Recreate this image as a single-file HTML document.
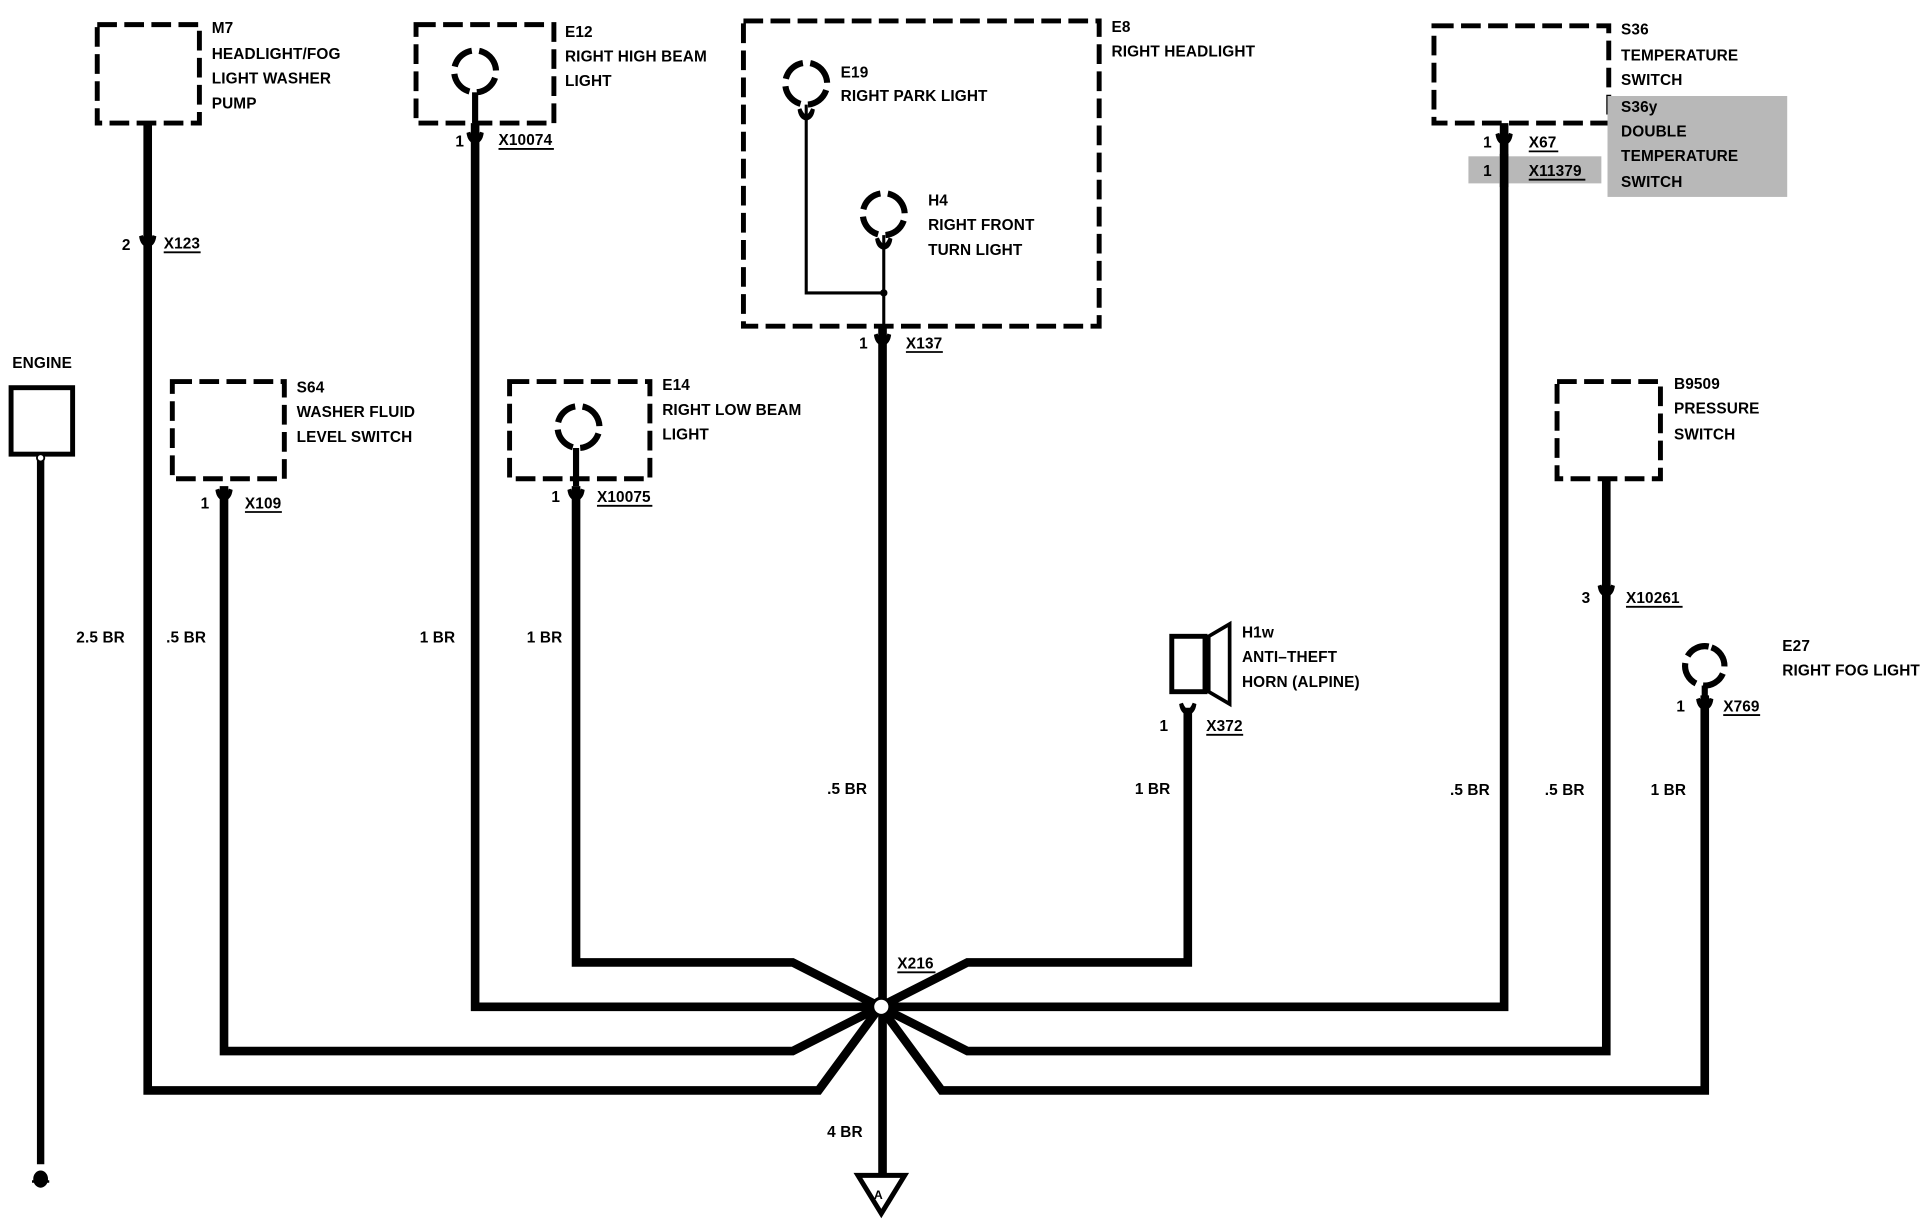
<!DOCTYPE html>
<html><head><meta charset="utf-8"><style>
html,body{margin:0;padding:0;background:#fff;}
svg{display:block}
text{font-family:"Liberation Sans",sans-serif;font-weight:bold;font-size:12.5px;fill:#000;letter-spacing:0.1px}
.w{stroke:#000;stroke-width:7;fill:none;stroke-linejoin:miter}
.t{stroke:#000;stroke-width:2.5;fill:none}
.d{stroke:#000;stroke-width:4;fill:none;stroke-dasharray:16 6}
.l{stroke:#000;stroke-width:5;fill:none;stroke-dasharray:20 6}
.u{stroke:#000;stroke-width:1.5}
</style></head><body>
<svg width="1930" height="1232" viewBox="0 0 1568 1001" preserveAspectRatio="none">
<defs>
<path id="cn" d="M-7,-6 Q-6,2 0,3 Q6,2 7,-6 L4,-7 Q2,-2 0,-2 Q-2,-2 -4,-7 Z" fill="#000"/>
</defs>
<polyline class="w" points="120,100 120,886 665,886 715,818"/>
<polyline class="w" points="182,395 182,854 644,854 715,818"/>
<polyline class="w" points="386,100 386,818 715,818"/>
<polyline class="w" points="468,395 468,782 644,782 715,818"/>
<polyline class="w" points="965,575 965,782 786,782 715,818"/>
<polyline class="w" points="1222,100 1222,818 715,818"/>
<polyline class="w" points="1305,390 1305,854 786,854 715,818"/>
<polyline class="w" points="1385,565 1385,886 765,886 715,818"/>
<line class="w" x1="717" y1="265" x2="717" y2="955"/>
<circle cx="716" cy="818" r="7" fill="#fff" stroke="#000" stroke-width="2.5"/>
<polygon points="697,955 735,955 716,986" fill="#fff" stroke="#000" stroke-width="4"/>
<text x="710" y="974" style="font-size:10px">A</text>
<text x="729" y="787">X216</text><line class="u" x1="729" y1="790" x2="760" y2="790"/>
<text x="672" y="924">4 BR</text>

<text x="10" y="299">ENGINE</text>
<rect x="9" y="315" width="50" height="54" fill="#fff" stroke="#000" stroke-width="4"/>
<line x1="33" y1="373" x2="33" y2="946" stroke="#000" stroke-width="6"/>
<circle cx="33" cy="372" r="3" fill="#fff" stroke="#000" stroke-width="1.5"/>
<ellipse cx="33" cy="958" rx="6" ry="7" fill="#000"/>
<line x1="26" y1="960" x2="40" y2="960" stroke="#000" stroke-width="2"/>

<rect class="d" x="79" y="20" width="83" height="80"/>
<text x="172" y="27">M7</text><text x="172" y="48">HEADLIGHT/FOG</text><text x="172" y="68">LIGHT WASHER</text><text x="172" y="88">PUMP</text>
<use href="#cn" x="120" y="198"/>
<text x="99" y="203">2</text><text x="133" y="202">X123</text><line class="u" x1="133" y1="205" x2="163" y2="205"/>
<text x="62" y="522">2.5 BR</text>

<rect class="d" x="338" y="20" width="112" height="80"/>
<circle cx="386" cy="58" r="17" class="l" transform="rotate(-70 386 58)"/>
<line class="w" x1="386" y1="75" x2="386" y2="100" style="stroke-width:5"/>
<text x="459" y="30">E12</text><text x="459" y="50">RIGHT HIGH BEAM</text><text x="459" y="70">LIGHT</text>
<use href="#cn" x="386" y="114"/>
<text x="370" y="119">1</text><text x="405" y="118">X10074</text><line class="u" x1="405" y1="121" x2="450" y2="121"/>
<text x="341" y="522">1 BR</text>

<rect class="d" x="604" y="17" width="289" height="248"/>
<text x="903" y="26">E8</text><text x="903" y="46">RIGHT HEADLIGHT</text>
<circle cx="655" cy="68" r="17" class="l" transform="rotate(-70 655 68)"/>
<polyline class="t" points="655,85 655,238 718,238"/>
<use href="#cn" x="655" y="95"/>
<circle cx="718" cy="174" r="17" class="l" transform="rotate(-70 718 174)"/>
<line class="t" x1="718" y1="191" x2="718" y2="265"/>
<use href="#cn" x="718" y="200"/>
<circle cx="718" cy="238" r="3" fill="#000"/>
<text x="683" y="63">E19</text><text x="683" y="82">RIGHT PARK LIGHT</text>
<text x="754" y="167">H4</text><text x="754" y="187">RIGHT FRONT</text><text x="754" y="207">TURN LIGHT</text>
<use href="#cn" x="717" y="278"/>
<text x="698" y="283">1</text><text x="736" y="283">X137</text><line class="u" x1="736" y1="286" x2="766" y2="286"/>
<text x="672" y="645">.5 BR</text>

<rect class="d" x="140" y="310" width="91" height="79"/>
<text x="241" y="319">S64</text><text x="241" y="339">WASHER FLUID</text><text x="241" y="359">LEVEL SWITCH</text>
<use href="#cn" x="182" y="404"/>
<text x="163" y="413">1</text><text x="199" y="413">X109</text><line class="u" x1="199" y1="416" x2="229" y2="416"/>
<text x="135" y="522">.5 BR</text>

<rect class="d" x="414" y="310" width="114" height="79"/>
<circle cx="470" cy="347" r="17" class="l" transform="rotate(-70 470 347)"/>
<line class="w" x1="468" y1="364" x2="468" y2="395" style="stroke-width:5"/>
<text x="538" y="317">E14</text><text x="538" y="337">RIGHT LOW BEAM</text><text x="538" y="357">LIGHT</text>
<use href="#cn" x="468" y="404"/>
<text x="448" y="408">1</text><text x="485" y="408">X10075</text><line class="u" x1="485" y1="411" x2="530" y2="411"/>
<text x="428" y="522">1 BR</text>

<rect x="952" y="517" width="27" height="45" fill="#fff" stroke="#000" stroke-width="4"/>
<polygon points="982,517 999,507 999,572 982,562" fill="#fff" stroke="#000" stroke-width="3"/>
<text x="1009" y="518">H1w</text><text x="1009" y="538">ANTI–THEFT</text><text x="1009" y="558">HORN (ALPINE)</text>
<use href="#cn" x="965" y="578"/>
<text x="942" y="594">1</text><text x="980" y="594">X372</text><line class="u" x1="980" y1="597" x2="1010" y2="597"/>
<text x="922" y="645">1 BR</text>

<rect class="d" x="1165" y="21" width="142" height="79"/>
<text x="1317" y="28">S36</text><text x="1317" y="49">TEMPERATURE</text><text x="1317" y="69">SWITCH</text>
<rect x="1306" y="78" width="146" height="82" fill="#b8b8b8"/>
<text x="1317" y="91">S36y</text><text x="1317" y="111">DOUBLE</text><text x="1317" y="131">TEMPERATURE</text><text x="1317" y="152">SWITCH</text>
<use href="#cn" x="1222" y="115"/>
<text x="1205" y="120">1</text><text x="1242" y="120">X67</text><line class="u" x1="1242" y1="123" x2="1266" y2="123"/>
<rect x="1193" y="127" width="108" height="22" fill="#b8b8b8"/>
<line class="w" x1="1222" y1="125" x2="1222" y2="152"/>
<text x="1205" y="143">1</text><text x="1242" y="143">X11379</text><line class="u" x1="1242" y1="146" x2="1288" y2="146"/>
<text x="1178" y="646">.5 BR</text>

<rect class="d" x="1265" y="310" width="84" height="79"/>
<text x="1360" y="316">B9509</text><text x="1360" y="336">PRESSURE</text><text x="1360" y="357">SWITCH</text>
<use href="#cn" x="1305" y="482"/>
<text x="1285" y="490">3</text><text x="1321" y="490">X10261</text><line class="u" x1="1321" y1="493" x2="1367" y2="493"/>
<text x="1255" y="646">.5 BR</text>

<circle cx="1385" cy="541" r="16" class="l" transform="rotate(-70 1385 541)"/>
<line class="w" x1="1385" y1="557" x2="1385" y2="570" style="stroke-width:5"/>
<text x="1448" y="529">E27</text><text x="1448" y="549">RIGHT FOG LIGHT</text>
<use href="#cn" x="1385" y="574"/>
<text x="1362" y="578">1</text><text x="1400" y="578">X769</text><line class="u" x1="1400" y1="581" x2="1430" y2="581"/>
<text x="1341" y="646">1 BR</text>
</svg>
</body></html>
